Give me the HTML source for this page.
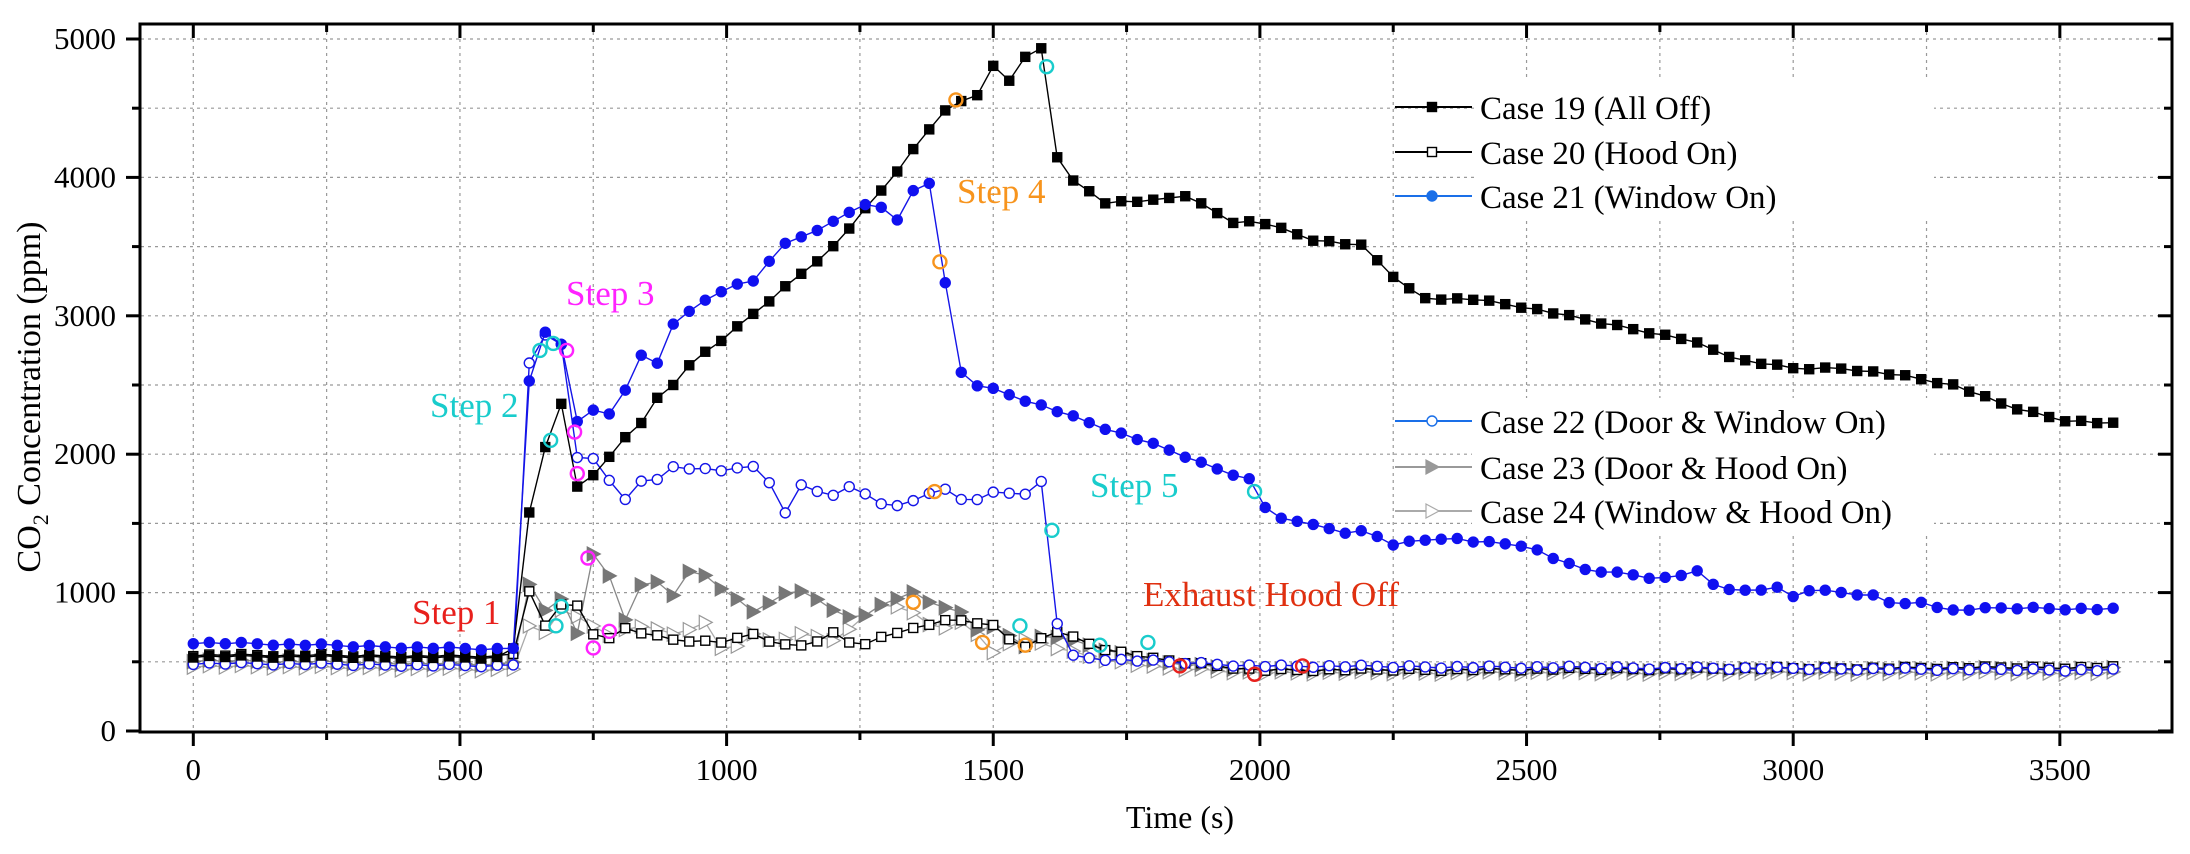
<!DOCTYPE html>
<html><head><meta charset="utf-8"><style>
html,body{margin:0;padding:0;background:#fff;}
svg{display:block;font-family:"Liberation Serif",serif;}
</style></head><body>
<svg id="c" width="2190" height="854" viewBox="0 0 2190 854" xmlns="http://www.w3.org/2000/svg"></svg>
<script>
const X=t=>193.3+t*0.5333, Y=v=>731-v*0.1384;
let s='';
for(let t=0;t<=3750;t+=250){if(X(t)>141&&X(t)<2171)s+=`<line x1="${X(t)}" y1="25" x2="${X(t)}" y2="731" stroke="#999" stroke-width="1.2" stroke-dasharray="3,4"/>`;}
for(let v=500;v<=5000;v+=500)s+=`<line x1="141" y1="${Y(v)}" x2="2171" y2="${Y(v)}" stroke="#999" stroke-width="1.2" stroke-dasharray="3,4"/>`;
function interp(k){const pts=[];for(let t=0;t<=3600;t+=30){let i=0;while(i<k.length-2&&k[i+1][0]<t)i++;const a=k[i],b=k[i+1];let f=(t-a[0])/(b[0]-a[0]);f=Math.max(0,Math.min(1,f));pts.push([t,a[1]+(b[1]-a[1])*f+((t*7919)%13-6)*1.5]);}return pts;}
const c19=interp([[0,540],[590,530],[600,600],[630,1570],[660,2050],[690,2370],[720,1760],[750,1850],[780,1990],[810,2120],[840,2230],[870,2400],[900,2500],[930,2650],[1000,2850],[1200,3500],[1300,3950],[1400,4450],[1440,4550],[1470,4600],[1500,4800],[1530,4700],[1560,4880],[1590,4930],[1620,4150],[1650,3970],[1680,3900],[1710,3820],[1800,3830],[1860,3870],[1950,3680],[2000,3680],[2100,3550],[2200,3500],[2230,3350],[2300,3130],[2400,3120],[2500,3060],[2600,2980],[2800,2830],[2900,2680],[3000,2620],[3100,2620],[3200,2570],[3300,2500],[3400,2350],[3500,2250],[3600,2220]]);
const c21=interp([[0,640],[590,590],[600,600],[630,2520],[660,2880],[690,2800],[720,2230],[750,2320],[780,2300],[810,2460],[840,2720],[870,2650],[900,2940],[930,3040],[1000,3200],[1050,3250],[1100,3500],[1200,3680],[1250,3800],[1300,3780],[1320,3700],[1350,3900],[1380,3960],[1410,3230],[1440,2590],[1470,2500],[1500,2470],[1600,2340],[1700,2200],[1800,2070],[1850,2000],[1900,1920],[1980,1820],[2010,1620],[2040,1530],[2100,1500],[2150,1430],[2200,1440],[2250,1350],[2350,1400],[2400,1370],[2500,1340],[2550,1250],[2600,1170],[2700,1130],[2750,1100],[2820,1150],[2850,1060],[2900,1010],[2970,1030],[3000,970],[3030,1020],[3100,1000],[3150,980],[3200,900],[3230,940],[3300,870],[3400,890],[3600,880]]);
const c22=interp([[0,490],[590,470],[600,480],[630,2650],[660,2860],[690,2800],[720,1970],[750,1970],[780,1820],[810,1670],[840,1810],[870,1810],[900,1910],[1000,1880],[1050,1910],[1080,1800],[1110,1570],[1140,1780],[1200,1700],[1230,1770],[1300,1620],[1350,1660],[1400,1760],[1450,1650],[1500,1720],[1560,1720],[1590,1800],[1620,780],[1650,540],[1700,520],[2000,470],[3600,440]]);
const c20=interp([[0,550],[590,540],[600,560],[630,1000],[660,760],[690,920],[720,900],[750,700],[780,680],[810,740],[850,700],[900,660],[1000,640],[1050,700],[1100,620],[1150,620],[1200,710],[1250,600],[1300,700],[1350,740],[1400,790],[1450,800],[1500,760],[1550,600],[1580,650],[1620,720],[1700,600],[1800,520],[2000,440],[3600,460]]);
const c23=interp([[0,510],[590,480],[600,500],[630,1050],[660,870],[690,960],[720,700],[750,1280],[780,1130],[810,800],[840,1060],[870,1070],[900,980],[930,1160],[960,1120],[990,1030],[1050,860],[1100,980],[1150,1020],[1200,870],[1250,800],[1300,940],[1350,1000],[1400,890],[1450,850],[1480,680],[1510,780],[1550,600],[1600,700],[1700,600],[1800,500],[2000,440],[3600,450]]);
const c24=interp([[0,470],[590,440],[600,450],[630,750],[660,710],[690,880],[720,820],[780,700],[840,760],[900,700],[960,780],[1000,540],[1050,700],[1100,640],[1150,720],[1200,650],[1250,800],[1300,940],[1350,850],[1400,720],[1450,800],[1500,560],[1550,680],[1600,620],[1700,520],[1800,460],[2000,420],[3600,420]]);
function line(p,col,w){return `<polyline fill="none" stroke="${col}" stroke-width="${w}" points="${p.map(q=>X(q[0]).toFixed(1)+','+Y(q[1]).toFixed(1)).join(' ')}"/>`;}
function sq(x,y,f){return `<rect x="${x-4.5}" y="${y-4.5}" width="9" height="9" fill="${f}" stroke="#000" stroke-width="1.4"/>`;}
function ci(x,y,f,st){return `<circle cx="${x}" cy="${y}" r="5" fill="${f}" stroke="${st}" stroke-width="1.4"/>`;}
function tr(x,y,f,st){return `<polygon points="${x-6},${y-7} ${x+7},${y} ${x-6},${y+7}" fill="${f}" stroke="${st}" stroke-width="1.2"/>`;}
function series(p,col,w,mk){s+=line(p,col,w);p.forEach(q=>s+=mk(X(q[0]),Y(q[1])));}
series(c24,'#aaa',1.3,(x,y)=>tr(x,y,'#fff','#999'));
series(c23,'#888',1.3,(x,y)=>tr(x,y,'#777','#777'));
series(c20,'#000',1.4,(x,y)=>sq(x,y,'#fff'));
series(c22,'#1515e8',1.4,(x,y)=>ci(x,y,'#fff','#1515e8'));
series(c19,'#000',1.4,(x,y)=>sq(x,y,'#000'));
series(c21,'#1515e8',1.4,(x,y)=>ci(x,y,'#1010f0','#1010f0'));
const ann=[['#19cccc',[[650,2750],[675,2800],[670,2100],[680,760],[690,900],[1600,4800],[1610,1450],[1990,1730],[1550,760],[1700,620],[1790,640]]],
['#ff22ff',[[700,2750],[715,2160],[720,1860],[740,1250],[750,600],[780,720]]],
['#f7941d',[[1430,4560],[1400,3390],[1390,1730],[1350,930],[1480,640],[1560,620]]],
['#e8201c',[[1850,470],[1990,410],[2080,470]]]];
ann.forEach(a=>a[1].forEach(q=>s+=`<circle cx="${X(q[0])}" cy="${Y(q[1])}" r="6.5" fill="none" stroke="${a[0]}" stroke-width="2.4"/>`));
s+=`<rect x="1476" y="80" width="458" height="137" fill="#fff"/><rect x="1472" y="398" width="462" height="135" fill="#fff"/>`;
const L=[[107,'#000',(x,y)=>sq(x,y,'#000'),'Case 19 (All Off)'],[152,'#000',(x,y)=>sq(x,y,'#fff'),'Case 20 (Hood On)'],[196,'#1a6fe8',(x,y)=>ci(x,y,'#1a6fe8','#1a6fe8'),'Case 21 (Window On)'],
[421,'#1a6fe8',(x,y)=>ci(x,y,'#fff','#1a6fe8'),'Case 22 (Door &amp; Window On)'],[467,'#999',(x,y)=>tr(x,y,'#999','#999'),'Case 23 (Door &amp; Hood On)'],[511,'#aaa',(x,y)=>tr(x,y,'#fff','#aaa'),'Case 24 (Window &amp; Hood On)']];
L.forEach(l=>{s+=`<line x1="1395" y1="${l[0]}" x2="1472" y2="${l[0]}" stroke="${l[1]}" stroke-width="2"/>`+l[2](1432,l[0])+`<text x="1480" y="${l[0]+12}" font-size="33" fill="#000">${l[3]}</text>`;});
const T=[[412,612,'#e8201c','Step 1'],[430,405,'#19cccc','Step 2'],[566,293,'#ff22ff','Step 3'],[957,191,'#f7941d','Step 4'],[1090,485,'#19cccc','Step 5'],[1143,594,'#e03010','Exhaust Hood Off']];
T.forEach(t=>s+=`<text x="${t[0]}" y="${t[1]+12}" font-size="35" fill="${t[2]}">${t[3]}</text>`);
s+=`<rect x="140" y="24" width="2032" height="708" fill="none" stroke="#000" stroke-width="3"/>`;
for(let t=0;t<=3750;t+=250){const x=X(t);if(x<=2171){const L2=t%500?8:14;s+=`<line x1="${x}" y1="732" x2="${x}" y2="${732+L2}" stroke="#000" stroke-width="3"/><line x1="${x}" y1="24" x2="${x}" y2="${24+L2}" stroke="#000" stroke-width="3"/>`;if(t%500==0)s+=`<text x="${x}" y="780" font-size="31" text-anchor="middle">${t}</text>`;}}
for(let v=0;v<=5000;v+=500){const y=Y(v),L2=v%1000?8:14;s+=`<line x1="${140-L2}" y1="${y}" x2="140" y2="${y}" stroke="#000" stroke-width="3"/><line x1="2172" y1="${y}" x2="${2172-L2}" y2="${y}" stroke="#000" stroke-width="3"/>`;if(v%1000==0)s+=`<text x="116" y="${y+10}" font-size="31" text-anchor="end">${v}</text>`;}
s+=`<text x="1180" y="828" font-size="32" text-anchor="middle">Time (s)</text>`;
s+=`<text transform="translate(40,397) rotate(-90)" font-size="34" text-anchor="middle">CO<tspan font-size="22" dy="8">2</tspan><tspan dy="-8"> Concentration (ppm)</tspan></text>`;
document.getElementById('c').innerHTML=s;
</script>
</body></html>
